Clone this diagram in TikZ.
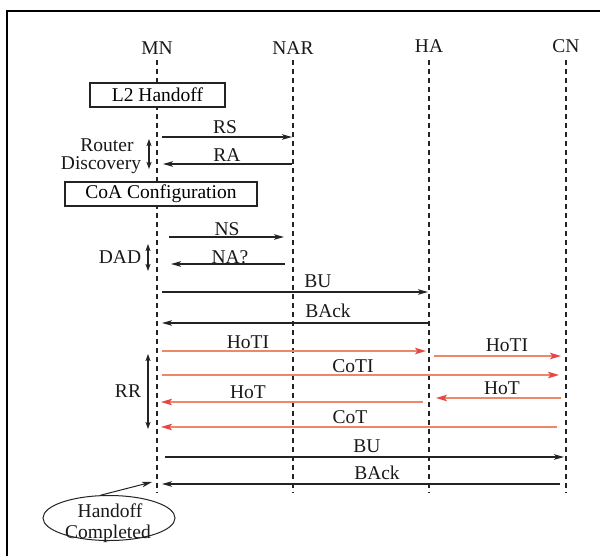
\documentclass[tikz,border=0pt]{standalone}
\usepackage{fontspec}
\setmainfont{Liberation Serif}
\usetikzlibrary{arrows.meta,shapes.geometric}
\definecolor{lnblack}{RGB}{35,35,35}
\definecolor{lnorange}{RGB}{238,135,104}
\definecolor{tipred}{RGB}{230,70,70}
\tikzset{
  lbl/.style={inner sep=0pt,anchor=base,font=\fontsize{19.5}{20}\selectfont,text=black!90},
  lifeline/.style={draw=lnblack,line width=1.1pt,dash pattern=on 5pt off 4pt},
  blkmsg/.style={draw=lnblack,line width=1.3pt,-{Stealth[length=10pt,width=5.5pt,inset=2.5pt]}},
  orgmsg/.style={draw=lnorange,line width=1.6pt,-{Stealth[length=11pt,width=6.5pt,inset=2.5pt,color=tipred]}},
  boxnode/.style={draw=lnblack,line width=1.1pt,minimum height=24pt,inner sep=0pt,font=\fontsize{19.5}{20}\selectfont},
  dbl/.style={draw=lnblack,line width=1.1pt,{Stealth[length=7pt,width=5pt,inset=1.5pt]}-{Stealth[length=7pt,width=5pt,inset=1.5pt]}}
}
\begin{document}
\begin{tikzpicture}[x=1pt,y=-1pt]
\useasboundingbox (0,0) rectangle (600,555);
\fill[white] (0,0) rectangle (600,555);
% frame
\draw[black,line width=1.4pt] (7,560) -- (7,11) -- (605,11);
% entity labels
\node[lbl] (mn) at (157,54) {MN};
\node[lbl] (nar) at (293,54) {NAR};
\node[lbl] (ha) at (429,52) {HA};
\node[lbl] (cn) at (566,52) {CN};
% lifelines
\coordinate (mnT) at (157,60); \coordinate (mnB) at (157,493);
\coordinate (narT) at (293,60); \coordinate (narB) at (293,493);
\coordinate (haT) at (429,60); \coordinate (haB) at (429,493);
\coordinate (cnT) at (566,60); \coordinate (cnB) at (566,493);
\draw[lifeline] (mnT) -- (mnB);
\draw[lifeline] (narT) -- (narB);
\draw[lifeline] (haT) -- (haB);
\draw[lifeline] (cnT) -- (cnB);
% boxes
\node[boxnode,fill=white,minimum width=135pt] (l2) at (157.5,95) {L2 Handoff};
\node[boxnode,fill=white,minimum width=192pt] (coa) at (161,194) {CoA Configuration};
% router discovery
\node[lbl] (rs) at (225,133.5) {RS};
\coordinate (rsA) at (162,137); \coordinate (rsB) at (292,137);
\draw[blkmsg] (rsA) -- (rsB);
\node[lbl] (ra) at (227,161.5) {RA};
\coordinate (raA) at (292,164); \coordinate (raB) at (163,164);
\draw[blkmsg] (raA) -- (raB);
\node[lbl] (rd1) at (107,151) {Router};
\node[lbl] (rd2) at (101,169) {Discovery};
\coordinate (rdT) at (149,139); \coordinate (rdB) at (149,169);
\draw[dbl] (rdT) -- (rdB);
% DAD
\node[lbl] (ns) at (227,235.5) {NS};
\coordinate (nsA) at (169,237); \coordinate (nsB) at (284,237);
\draw[blkmsg] (nsA) -- (nsB);
\node[lbl] (na) at (230,263.5) {NA?};
\coordinate (naA) at (285,264); \coordinate (naB) at (171,264);
\draw[blkmsg] (naA) -- (naB);
\node[lbl] (dad) at (120,263.5) {DAD};
\coordinate (dadT) at (148,244); \coordinate (dadB) at (148,271);
\draw[dbl] (dadT) -- (dadB);
% BU / BAck to HA
\node[lbl] (bu1) at (318,287.5) {BU};
\coordinate (bu1A) at (162,292); \coordinate (bu1B) at (428,292);
\draw[blkmsg] (bu1A) -- (bu1B);
\node[lbl] (ba1) at (328,317.5) {BAck};
\coordinate (ba1A) at (428,323); \coordinate (ba1B) at (162,323);
\draw[blkmsg] (ba1A) -- (ba1B);
% RR
\node[lbl] (hoti1) at (248,348.5) {HoTI};
\coordinate (hoti1A) at (162,351); \coordinate (hoti1B) at (426,351);
\draw[orgmsg] (hoti1A) -- (hoti1B);
\node[lbl] (hoti2) at (507,351.5) {HoTI};
\coordinate (hoti2A) at (434,356); \coordinate (hoti2B) at (561,356);
\draw[orgmsg] (hoti2A) -- (hoti2B);
\node[lbl] (coti) at (353,372.5) {CoTI};
\coordinate (cotiA) at (162,375); \coordinate (cotiB) at (559,375);
\draw[orgmsg] (cotiA) -- (cotiB);
\node[lbl] (hot1) at (248,398.5) {HoT};
\coordinate (hot1A) at (423,402); \coordinate (hot1B) at (161,402);
\draw[orgmsg] (hot1A) -- (hot1B);
\node[lbl] (hot2) at (502,394.5) {HoT};
\coordinate (hot2A) at (561,398); \coordinate (hot2B) at (436,398);
\draw[orgmsg] (hot2A) -- (hot2B);
\node[lbl] (cot) at (350,423.5) {CoT};
\coordinate (cotA) at (557,427); \coordinate (cotB) at (161,427);
\draw[orgmsg] (cotA) -- (cotB);
\node[lbl] (rr) at (128,397.5) {RR};
\coordinate (rrT) at (148,354); \coordinate (rrB) at (148,429);
\draw[dbl] (rrT) -- (rrB);
% BU / BAck to CN
\node[lbl] (bu2) at (367,452.5) {BU};
\coordinate (bu2A) at (165,457); \coordinate (bu2B) at (564,457);
\draw[blkmsg] (bu2A) -- (bu2B);
\node[lbl] (ba2) at (377,479.5) {BAck};
\coordinate (ba2A) at (560,484); \coordinate (ba2B) at (162,484);
\draw[blkmsg] (ba2A) -- (ba2B);
% Handoff completed
\node[ellipse,draw=lnblack,line width=1pt,minimum width=132pt,minimum height=45pt,inner sep=0pt] (ho) at (109,518) {};
\node[lbl] (ho1) at (110,517) {Handoff};
\node[lbl] (ho2) at (108,538) {Completed};
\coordinate (hoEnd) at (152,482);
\draw[blkmsg,line width=1pt] (ho.110) -- (hoEnd);
\end{tikzpicture}
\end{document}
